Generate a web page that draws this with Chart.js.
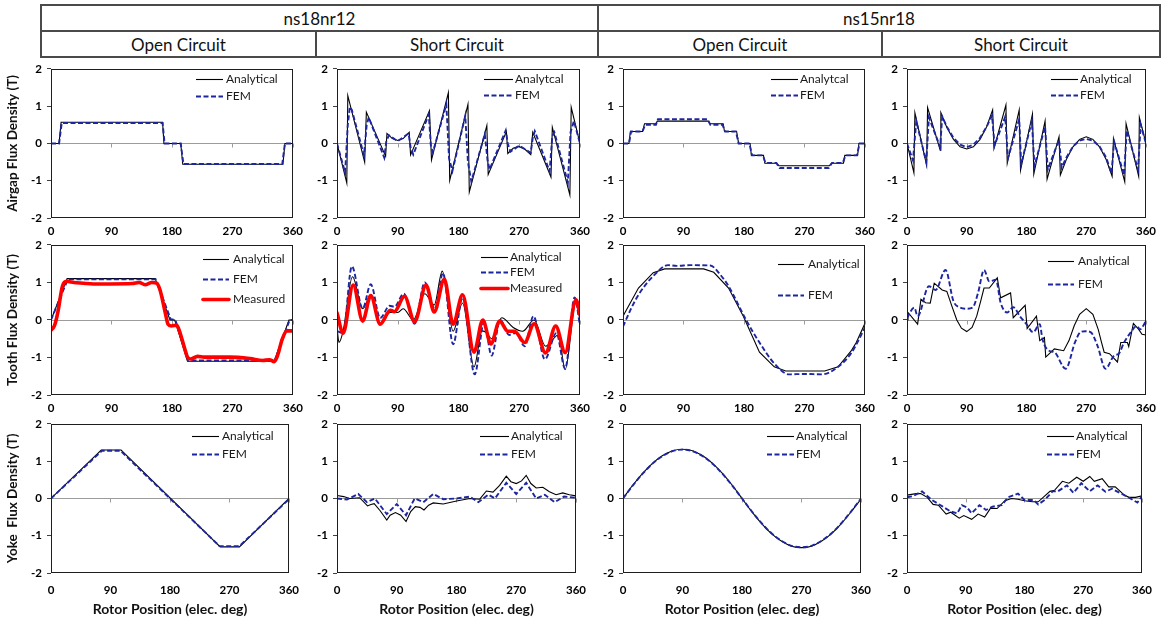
<!DOCTYPE html>
<html>
<head>
<meta charset="utf-8">
<script src="https://cdn.jsdelivr.net/npm/chart.js@4.4.1/dist/chart.umd.min.js"></script>
<style>
  html, body { margin: 0; padding: 0; background: #fff; }
  #page { position: relative; width: 1163px; height: 621px; overflow: hidden; font-family: Lato, 'Liberation Sans', sans-serif; }
  .rule { position: absolute; background: #4a4a4a; }
  .head { position: absolute; text-align: center; font-size: 17px; color: #111; white-space: nowrap; transform: translate(-50%, -50%); }
  canvas { position: absolute; }
</style>
</head>
<body>
<div id="page"></div>
<script>
// ---------------- labels ----------------
const machines = ['ns18nr12', 'ns15nr18'];
const conditions = ['Open Circuit', 'Short Circuit'];
const rowTitles = ['Airgap Flux Density (T)', 'Tooth Flux Density (T)', 'Yoke  Flux Density (T)'];
const xTitle = 'Rotor Position (elec. deg)';
const xTickValues = [0, 90, 180, 270, 360];
const yTickValues = [-2, -1, 0, 1, 2];

// ---------------- ns18nr12, open circuit ----------------
const gapOc18AnaX = [0, 12, 15, 166, 168, 193, 196, 345, 348, 360];
const gapOc18AnaY = [0, 0, 0.57, 0.57, 0, 0, -0.56, -0.56, 0, 0];
const gapOc18FemX = [0, 12, 16, 166, 169, 193, 197, 344, 348, 360];
const gapOc18FemY = [0, 0, 0.55, 0.55, 0, 0, -0.55, -0.55, 0, 0];

const toothOc18AnaX = [0, 24, 155, 177, 184, 203, 332, 354, 360];
const toothOc18AnaY = [0, 1.1, 1.1, 0, 0, -1.1, -1.1, 0, 0];
const toothOc18FemX = [0, 25, 156, 178, 185, 204, 333, 355, 360];
const toothOc18FemY = [0, 1.08, 1.08, 0.02, 0, -1.08, -1.08, 0, 0];
const toothOc18MeasX = [0, 5, 10, 17, 23, 34, 48, 63, 87, 121, 131, 140, 150, 157, 162, 170, 174, 179, 187, 191, 199, 203, 208, 218, 228, 266, 296, 315, 325, 332, 337, 344, 351, 360];
const toothOc18MeasY = [-0.27, -0.16, 0.19, 0.9, 1.03, 1.0, 0.98, 0.96, 0.96, 0.97, 1.0, 0.94, 1.0, 0.98, 0.81, 0.19, -0.11, -0.16, -0.14, -0.29, -0.77, -0.99, -1.04, -0.97, -0.99, -0.99, -1.03, -1.08, -1.06, -1.11, -0.95, -0.51, -0.29, -0.29];

const yokeOc18AnaX = [0, 76, 106, 256, 285, 360];
const yokeOc18AnaY = [0, 1.3, 1.3, -1.3, -1.3, 0];
const yokeOc18FemX = [0, 77, 105, 255, 285, 360];
const yokeOc18FemY = [0, 1.28, 1.28, -1.28, -1.28, -0.02];

// ---------------- ns18nr12, short circuit ----------------
const gapSc18AnaX = [0, 14.5, 16, 41, 43.5, 72, 74, 82, 90, 98, 107, 109, 137, 140, 165, 167, 194, 196, 222, 224, 251, 253, 261, 269, 278, 287, 290, 317, 319, 345, 347, 360];
const gapSc18AnaY = [0, -1.06, 1.28, -0.5, 0.84, -0.34, 0.27, 0.13, 0.08, 0.13, 0.3, -0.31, 0.88, -0.44, 1.36, -0.99, 1.05, -1.3, 0.48, -0.83, 0.32, -0.27, -0.13, -0.08, -0.15, -0.3, 0.3, -0.9, 0.43, -1.38, 0.97, 0];
const gapSc18FemX = [0, 12, 16, 19, 22, 40, 44, 47, 70, 73, 77, 90, 106, 109, 113, 136, 139, 142, 162, 166, 171, 190, 194, 199, 219, 223, 226, 250, 253, 257, 270, 287, 290, 293, 315, 319, 322, 342, 346, 351, 360];
const gapSc18FemY = [0, -0.78, 0.5, 0.98, 0.9, -0.32, 0.5, 0.7, -0.38, 0.05, 0.22, 0.06, 0.27, -0.1, -0.3, 0.78, -0.05, -0.24, 1.05, -0.4, -0.74, 0.74, -0.5, -1.02, 0.25, -0.45, -0.7, 0.35, 0, -0.22, -0.06, -0.25, 0.15, 0.33, -0.75, 0.2, 0.3, -1.05, 0.3, 0.6, 0];

const toothSc18AnaX = [0, 3, 9, 23, 38, 50, 64, 79, 90, 98, 113, 130, 144, 156, 172, 186, 203, 215, 222, 229, 244, 261, 275, 292, 309, 328, 338, 354, 360];
const toothSc18AnaY = [-0.2, -0.6, -0.3, 1.15, 0.3, 0.65, -0.1, 0.2, 0.2, 0.3, 0, 0.7, 0.4, 1.3, -0.3, 0.45, -1.25, -0.29, -0.35, -0.5, 0.06, -0.2, -0.3, 0, -0.7, -0.4, -1.32, 0.45, 0];
const toothSc18FemX = [0, 9, 22, 38, 50, 64, 78, 85, 99, 115, 130, 145, 157, 172, 186, 204, 218, 229, 242, 255, 265, 278, 291, 308, 325, 338, 352, 360];
const toothSc18FemY = [-0.3, -0.35, 1.43, 0.3, 0.95, 0.05, 0.38, 0.35, 0.7, -0.1, 1.0, 0.3, 1.25, -0.65, 0.6, -1.45, -0.05, -0.95, 0, -0.4, -0.35, -0.7, 0.1, -1.05, -0.35, -1.3, 0.6, -0.15];
const toothSc18MeasX = [0, 9, 24, 38, 50, 64, 79, 85, 100, 115, 132, 144, 159, 172, 186, 203, 216, 228, 241, 253, 263, 278, 292, 309, 324, 338, 354, 360];
const toothSc18MeasY = [0.19, -0.35, 0.93, -0.03, 0.65, -0.11, 0.26, 0.22, 0.63, -0.05, 0.93, 0.21, 1.08, -0.11, 0.67, -0.86, 0, -0.64, -0.03, -0.3, -0.3, -0.6, -0.1, -0.88, -0.16, -0.87, 0.54, 0.15];

const yokeSc18AnaX = [0, 10, 19, 34, 46, 51, 56, 65, 75, 80, 88, 96, 104, 111, 118, 125, 131, 138, 145, 160, 180, 200, 215, 225, 235, 245, 255, 262, 270, 278, 285, 292, 300, 310, 320, 330, 340, 350, 360];
const yokeSc18AnaY = [0.08, 0.05, 0, 0.02, -0.2, -0.16, -0.14, -0.33, -0.58, -0.45, -0.38, -0.45, -0.62, -0.35, -0.22, -0.24, -0.31, -0.18, -0.12, -0.15, -0.07, 0, -0.02, 0.2, 0.17, 0.35, 0.6, 0.45, 0.4, 0.47, 0.62, 0.4, 0.28, 0.3, 0.18, 0.1, 0.15, 0.1, 0.07];
const yokeSc18FemX = [0, 15, 32, 45, 57, 75, 90, 104, 117, 130, 145, 160, 180, 200, 213, 228, 238, 255, 270, 285, 300, 313, 328, 342, 360];
const yokeSc18FemY = [0, -0.03, 0.12, -0.1, 0, -0.42, -0.15, -0.45, 0, -0.1, 0.12, -0.02, 0, 0.05, -0.1, 0.1, 0, 0.42, 0.12, 0.42, 0, 0.1, -0.1, 0.05, 0.02];

// ---------------- ns15nr18, open circuit ----------------
const gapOc15AnaX = [0, 8.8, 11, 29, 32, 49, 51, 127, 129, 149, 151, 169, 172, 189, 191, 209, 211, 229, 232, 307, 310, 328, 330, 349, 351, 360];
const gapOc15AnaY = [0, 0, 0.32, 0.32, 0.53, 0.53, 0.6, 0.6, 0.53, 0.53, 0.32, 0.32, 0, 0, -0.32, -0.32, -0.53, -0.53, -0.6, -0.6, -0.53, -0.53, -0.32, -0.32, 0, 0];
const gapOc15FemX = [0, 9, 12, 29, 33, 49, 52, 126, 130, 148, 152, 168, 172, 188, 192, 208, 212, 228, 233, 306, 311, 327, 331, 348, 352, 360];
const gapOc15FemY = [0, 0, 0.32, 0.32, 0.5, 0.5, 0.65, 0.65, 0.5, 0.5, 0.32, 0.32, 0, 0, -0.32, -0.32, -0.52, -0.52, -0.66, -0.66, -0.52, -0.52, -0.32, -0.32, 0, 0];

const toothOc15AnaX = [0, 3, 23, 45, 62, 120, 135, 157, 179, 203, 225, 242, 300, 320, 340, 347, 360];
const toothOc15AnaY = [0.1, 0.2, 0.85, 1.26, 1.36, 1.36, 1.27, 0.85, 0.1, -0.86, -1.25, -1.36, -1.36, -1.25, -0.81, -0.6, -0.09];
const toothOc15FemX = [0, 12, 23, 45, 67, 80, 100, 130, 145, 157, 184, 203, 225, 247, 270, 296, 320, 340, 360];
const toothOc15FemY = [-0.18, 0.3, 0.67, 1.17, 1.46, 1.44, 1.46, 1.45, 1.2, 0.9, -0.03, -0.6, -1.16, -1.45, -1.44, -1.45, -1.25, -0.87, -0.2];

const yokeOc15X = [0, 15, 30, 45, 60, 75, 90, 105, 120, 135, 150, 165, 180, 195, 210, 225, 240, 255, 270, 285, 300, 315, 330, 345, 360];
const yokeOc15AnaY = [0, 0.36, 0.68, 0.95, 1.15, 1.28, 1.32, 1.28, 1.15, 0.95, 0.68, 0.36, 0, -0.36, -0.68, -0.95, -1.15, -1.28, -1.32, -1.28, -1.15, -0.95, -0.68, -0.36, -0.02];
const yokeOc15FemY = [0, 0.35, 0.67, 0.94, 1.14, 1.27, 1.31, 1.27, 1.14, 0.94, 0.67, 0.35, 0, -0.35, -0.67, -0.94, -1.14, -1.27, -1.31, -1.27, -1.14, -0.94, -0.67, -0.35, 0];

// ---------------- ns15nr18, short circuit ----------------
const gapSc15AnaX = [0, 10.4, 11.9, 29.6, 31, 50, 51, 60, 70, 80, 90, 100, 110, 120, 129, 131, 149, 151, 169, 171, 189, 191, 208, 211, 229, 231, 240, 250, 260, 270, 280, 290, 300, 309, 311, 328, 330, 349, 350, 360];
const gapSc15AnaY = [0, -0.79, 0.82, -0.59, 0.96, -0.18, 0.83, 0.43, 0.11, -0.09, -0.15, -0.09, 0.11, 0.45, 0.9, -0.13, 1.03, -0.53, 0.9, -0.72, 0.79, -0.82, 0.6, -0.96, 0.18, -0.85, -0.43, -0.09, 0.11, 0.18, 0.11, -0.09, -0.43, -0.88, 0.13, -1.03, 0.53, -0.88, 0.7, 0];
const gapSc15FemX = [0, 9, 14, 29, 33, 50, 53, 60, 70, 80, 90, 100, 110, 120, 128, 132, 148, 152, 169, 172, 188, 192, 208, 212, 229, 233, 240, 250, 260, 270, 280, 290, 300, 308, 312, 327, 331, 348, 352, 360];
const gapSc15FemY = [0, -0.45, 0.6, -0.5, 0.7, -0.1, 0.72, 0.45, 0.15, -0.03, -0.1, -0.03, 0.15, 0.45, 0.75, -0.05, 0.72, -0.4, 0.65, -0.55, 0.6, -0.6, 0.45, -0.7, 0.1, -0.65, -0.38, -0.08, 0.08, 0.12, 0.08, -0.08, -0.38, -0.8, 0.05, -0.85, 0.35, -0.7, 0.5, 0];

const toothSc15AnaX = [0, 1.5, 16, 21, 28, 35, 41, 53, 60, 68, 75, 82, 90, 98, 105, 111, 116, 124, 136, 141, 156, 160, 178, 181, 195, 200, 207, 209, 222, 236, 244, 252, 260, 270, 280, 288, 293, 297, 305, 317, 322, 332, 334, 341, 349, 354, 360];
const toothSc15AnaY = [0, 0.2, -0.11, 0.55, 0.46, 0.45, 0.98, 0.8, 0.76, 0.35, 0, -0.22, -0.31, -0.2, 0.1, 0.5, 0.85, 0.85, 1.12, 0.59, 0.72, 0.06, 0.39, -0.23, 0.1, -0.55, -0.47, -0.99, -0.77, -0.82, -0.55, -0.15, 0.15, 0.3, 0.15, -0.25, -0.6, -0.86, -0.9, -1.12, -0.6, -0.6, -0.71, -0.09, -0.25, -0.38, -0.4];
const toothSc15FemX = [0, 11, 16, 33, 43, 58, 70, 80, 90, 99, 107, 116, 124, 134, 141, 151, 160, 170, 180, 190, 200, 204, 214, 222, 239, 253, 261, 269, 277, 287, 299, 312, 319, 327, 337, 346, 351, 360];
const toothSc15FemY = [0.05, 0.33, 0.1, 0.9, 0.8, 1.33, 0.5, 0.33, 0.3, 0.33, 0.72, 1.33, 1.03, 1.07, 0.46, 0.2, 0.34, 0.1, -0.11, -0.33, -0.11, -0.51, -0.82, -0.86, -1.3, -0.6, -0.33, -0.3, -0.33, -0.69, -1.3, -0.95, -0.9, -0.6, -0.33, -0.16, -0.25, -0.03];

const yokeSc15AnaX = [0, 14, 21, 31, 40, 48, 60, 67, 80, 87, 99, 109, 119, 128, 138, 150, 160, 170, 180, 192, 201, 219, 226, 238, 248, 260, 270, 280, 287, 299, 309, 319, 333, 340, 350, 360];
const yokeSc15AnaY = [0.09, 0.13, 0.13, 0.03, -0.16, -0.18, -0.42, -0.37, -0.53, -0.46, -0.56, -0.42, -0.5, -0.26, -0.27, -0.06, 0, -0.02, -0.06, -0.09, -0.09, 0.19, 0.22, 0.46, 0.41, 0.57, 0.46, 0.59, 0.46, 0.53, 0.31, 0.31, 0.09, 0.03, 0.03, 0.07];
const yokeSc15FemX = [0, 9, 23, 38, 53, 67, 77, 84, 92, 99, 111, 121, 131, 145, 155, 170, 180, 194, 201, 211, 223, 231, 245, 255, 267, 280, 292, 304, 314, 326, 336, 353, 360];
const yokeSc15FemY = [0.03, 0.06, 0.19, -0.04, -0.2, -0.35, -0.4, -0.18, -0.24, -0.4, -0.18, -0.31, -0.22, -0.18, 0.03, 0.13, -0.04, -0.04, -0.16, -0.04, 0.19, 0.19, 0.35, 0.15, 0.41, 0.19, 0.35, 0.18, 0.26, 0.15, 0.06, -0.11, 0.06];

// ---------------- layout ----------------
const FONT = "Lato, 'Liberation Sans', sans-serif";
const COLS = [
  { l: 51, r: 297, yw: 51 },
  { l: 337, r: 584, yw: 30 },
  { l: 623, r: 869, yw: 30 },
  { l: 907, r: 1150, yw: 30 }
];
const ROWS = [
  { t: 67, b: 218, xh: 22, xpad: 6 },
  { t: 243, b: 395, xh: 22, xpad: 6 },
  { t: 422, b: 573, xh: 48, xpad: 10 }
];
const PT = 10, PR = 12;

const STYLES = {
  ana:  { borderColor: '#000000', borderWidth: 1.1, order: 2 },
  fem:  { borderColor: '#1c26a0', borderWidth: 1.9, borderDash: [5, 2.5], order: 1 },
  meas: { borderColor: '#ff0000', borderWidth: 3.6, order: 0, borderCapStyle: 'round', borderJoinStyle: 'round' }
};

function series(label, kind, xs, ys, smooth) {
  return { label, kind, xs, ys, smooth: !!smooth };
}

const panels = [
  { row: 0, col: 0, lg: { x0: -97, x1: -70, tx: -67, ys: [10, 27] }, series: [
    series('Analytical', 'ana', gapOc18AnaX, gapOc18AnaY), series('FEM', 'fem', gapOc18FemX, gapOc18FemY)] },
  { row: 0, col: 1, lg: { x0: -96, x1: -67, tx: -65, ys: [10, 26] }, series: [
    series('Analytcal', 'ana', gapSc18AnaX, gapSc18AnaY), series('FEM', 'fem', gapSc18FemX, gapSc18FemY)] },
  { row: 0, col: 2, lg: { x0: -94, x1: -67, tx: -65, ys: [10, 26] }, series: [
    series('Analytcal', 'ana', gapOc15AnaX, gapOc15AnaY), series('FEM', 'fem', gapOc15FemX, gapOc15FemY)] },
  { row: 0, col: 3, lg: { x0: -95, x1: -68, tx: -66, ys: [10, 26] }, series: [
    series('Analytical', 'ana', gapSc15AnaX, gapSc15AnaY), series('FEM', 'fem', gapSc15FemX, gapSc15FemY)] },

  { row: 1, col: 0, lg: { x0: -90, x1: -64, tx: -60, ys: [14, 34, 54] }, series: [
    series('Analytical', 'ana', toothOc18AnaX, toothOc18AnaY), series('FEM', 'fem', toothOc18FemX, toothOc18FemY),
    series('Measured', 'meas', toothOc18MeasX, toothOc18MeasY, true)] },
  { row: 1, col: 1, lg: { x0: -99, x1: -72, tx: -70, ys: [12, 27, 43] }, series: [
    series('Analytical', 'ana', toothSc18AnaX, toothSc18AnaY, true), series('FEM', 'fem', toothSc18FemX, toothSc18FemY, true),
    series('Measured', 'meas', toothSc18MeasX, toothSc18MeasY, true)] },
  { row: 1, col: 2, lg: { x0: -87, x1: -61, tx: -57, ys: [19, 50] }, series: [
    series('Analytical', 'ana', toothOc15AnaX, toothOc15AnaY), series('FEM', 'fem', toothOc15FemX, toothOc15FemY, true)] },
  { row: 1, col: 3, lg: { x0: -98, x1: -72, tx: -68, ys: [16, 39] }, series: [
    series('Analytical', 'ana', toothSc15AnaX, toothSc15AnaY), series('FEM', 'fem', toothSc15FemX, toothSc15FemY, true)] },

  { row: 2, col: 0, lg: { x0: -97, x1: -70, tx: -67, ys: [12, 30] }, series: [
    series('Analytical', 'ana', yokeOc18AnaX, yokeOc18AnaY), series('FEM', 'fem', yokeOc18FemX, yokeOc18FemY)] },
  { row: 2, col: 1, lg: { x0: -96, x1: -67, tx: -65, ys: [12, 30] }, series: [
    series('Analytical', 'ana', yokeSc18AnaX, yokeSc18AnaY), series('FEM', 'fem', yokeSc18FemX, yokeSc18FemY)] },
  { row: 2, col: 2, lg: { x0: -94, x1: -67, tx: -65, ys: [12, 30] }, series: [
    series('Analytical', 'ana', yokeOc15X, yokeOc15AnaY, true), series('FEM', 'fem', yokeOc15X, yokeOc15FemY, true)] },
  { row: 2, col: 3, lg: { x0: -95, x1: -68, tx: -66, ys: [12, 30] }, series: [
    series('Analytical', 'ana', yokeSc15AnaX, yokeSc15AnaY), series('FEM', 'fem', yokeSc15FemX, yokeSc15FemY)] }
];

// ---------------- header table ----------------
const page = document.getElementById('page');
function rule(x, y, w, h) {
  const d = document.createElement('div');
  d.className = 'rule';
  Object.assign(d.style, { left: x + 'px', top: y + 'px', width: w + 'px', height: h + 'px' });
  page.appendChild(d);
}
function headText(text, cx, cy) {
  const d = document.createElement('div');
  d.className = 'head';
  d.textContent = text;
  Object.assign(d.style, { left: cx + 'px', top: cy + 'px' });
  page.appendChild(d);
}
const HX = [41, 316, 598, 882, 1160];
const HY = [5, 31, 57];
HY.forEach(y => rule(HX[0] - 1, y - 1, HX[4] - HX[0] + 2, 2));
[HX[0], HX[2], HX[4]].forEach(x => rule(x - 1, HY[0] - 1, 2, HY[2] - HY[0] + 2));
[HX[1], HX[3]].forEach(x => rule(x - 1, HY[1], 2, HY[2] - HY[1]));
machines.forEach((m, i) => headText(m, (HX[2 * i] + HX[2 * i + 2]) / 2, (HY[0] + HY[1]) / 2));
for (let i = 0; i < 4; i++) headText(conditions[i % 2], (HX[i] + HX[i + 1]) / 2, (HY[1] + HY[2]) / 2);

// ---------------- frame, zero axis and inline legend ----------------
const framePlugin = {
  id: 'frame',
  beforeDatasetsDraw(chart) {
    const { ctx, chartArea: a, scales: { x, y } } = chart;
    const y0 = Math.round(y.getPixelForValue(0)) + 0.5;
    ctx.save();
    ctx.strokeStyle = '#9c9c9c';
    ctx.lineWidth = 1;
    ctx.beginPath();
    ctx.moveTo(a.left, y0);
    ctx.lineTo(a.right, y0);
    x.ticks.forEach(t => {
      const px = Math.round(x.getPixelForValue(t.value)) + 0.5;
      ctx.moveTo(px, y0);
      ctx.lineTo(px, y0 + 4);
    });
    ctx.stroke();
    ctx.restore();
  },
  afterDatasetsDraw(chart, args, opts) {
    const { ctx, chartArea: a } = chart;
    ctx.save();
    ctx.strokeStyle = '#1e1e1e';
    ctx.lineWidth = 1;
    ctx.strokeRect(Math.round(a.left) + 0.5, Math.round(a.top) + 0.5, Math.round(a.right - a.left) - 1, Math.round(a.bottom - a.top) - 1);
    const lg = opts.lg;
    if (lg) {
      ctx.font = '12px ' + FONT;
      ctx.textBaseline = 'middle';
      ctx.textAlign = 'left';
      chart.data.datasets.forEach((ds, i) => {
        const ly = Math.round(a.top + lg.ys[i]) + 0.5;
        ctx.save();
        ctx.strokeStyle = ds.borderColor;
        ctx.lineWidth = ds.borderWidth;
        ctx.setLineDash(ds.borderDash || []);
        ctx.lineCap = ds.kind === 'meas' ? 'round' : 'butt';
        ctx.beginPath();
        ctx.moveTo(a.right + lg.x0, ly);
        ctx.lineTo(a.right + lg.x1, ly);
        ctx.stroke();
        ctx.restore();
        ctx.fillStyle = '#1a1a1a';
        ctx.fillText(ds.label, a.right + lg.tx, ly);
      });
    }
    ctx.restore();
  }
};

// ---------------- charts ----------------
const tickFont = { family: FONT, size: 11.5, weight: 'bold' };

panels.forEach(p => {
  const col = COLS[p.col], row = ROWS[p.row];
  const W = col.yw + (col.r - col.l) + PR;
  const H = PT + (row.b - row.t) + row.xh;
  const cv = document.createElement('canvas');
  cv.width = W; cv.height = H;
  Object.assign(cv.style, { left: (col.l - col.yw) + 'px', top: (row.t - PT) + 'px', width: W + 'px', height: H + 'px' });
  page.appendChild(cv);

  const datasets = p.series.map(s => Object.assign({
    label: s.label,
    kind: s.kind,
    data: s.xs.map((xv, i) => ({ x: xv, y: s.ys[i] })),
    pointRadius: 0,
    fill: false,
    tension: 0,
    cubicInterpolationMode: s.smooth ? 'monotone' : 'default'
  }, STYLES[s.kind]));

  new Chart(cv, {
    type: 'line',
    data: { datasets },
    options: {
      responsive: false,
      animation: false,
      events: [],
      layout: { padding: { left: 0, top: PT, right: PR, bottom: 0 } },
      plugins: { legend: { display: false }, tooltip: { enabled: false }, frame: { lg: p.lg } },
      scales: {
        x: {
          type: 'linear', min: 0, max: 360,
          afterBuildTicks: s => { s.ticks = xTickValues.map(v => ({ value: v })); },
          afterFit: s => { s.height = row.xh; },
          grid: { display: false, drawTicks: false },
          border: { display: false },
          ticks: { autoSkip: false, maxRotation: 0, padding: row.xpad, color: '#000', font: tickFont },
          title: p.row === 2
            ? { display: true, text: xTitle, color: '#111', font: { family: FONT, size: 14, weight: 'bold' }, padding: { top: 0, bottom: 3 } }
            : { display: false }
        },
        y: {
          type: 'linear', min: -2, max: 2,
          afterBuildTicks: s => { s.ticks = yTickValues.map(v => ({ value: v })); },
          afterFit: s => { s.width = col.yw; },
          grid: { drawOnChartArea: false, drawTicks: true, tickLength: 4, color: '#404040' },
          border: { display: false },
          ticks: { padding: 5, color: '#000', font: tickFont },
          title: p.col === 0
            ? { display: true, text: rowTitles[p.row], color: '#111', font: { family: FONT, size: 13.5, weight: 'bold' }, padding: { top: 5, bottom: 0 } }
            : { display: false }
        }
      }
    },
    plugins: [framePlugin]
  });
});
</script>
</body>
</html>
